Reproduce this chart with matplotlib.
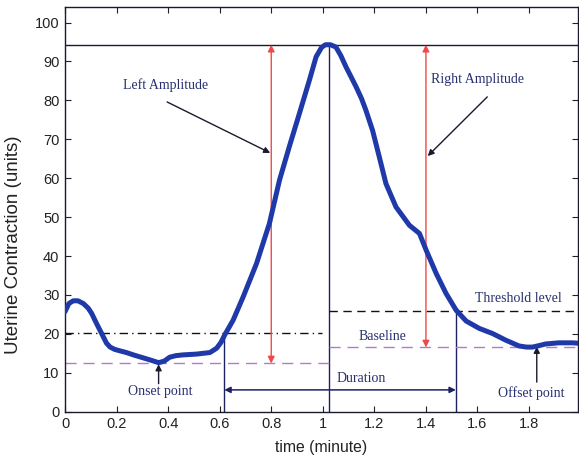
import matplotlib
matplotlib.use("Agg")
import matplotlib.pyplot as plt

# Uterine contraction trace (time in minutes, amplitude in units)
time_min = [0.000, 0.015, 0.032, 0.050, 0.071, 0.090, 0.103, 0.122, 0.142, 0.161,
            0.175, 0.193, 0.215, 0.238, 0.265, 0.290, 0.330, 0.363, 0.385, 0.406,
            0.430, 0.458, 0.510, 0.562, 0.588, 0.605, 0.620, 0.652, 0.691, 0.743,
            0.793, 0.832, 0.870, 0.909, 0.948, 0.974, 0.995, 1.010, 1.030, 1.051,
            1.070, 1.090, 1.110, 1.129, 1.150, 1.167, 1.193, 1.219, 1.245, 1.284,
            1.336, 1.375, 1.401, 1.440, 1.478, 1.517, 1.556, 1.607, 1.658, 1.709,
            1.761, 1.790, 1.813, 1.840, 1.864, 1.916, 1.967, 1.990]
contraction = [25.7, 27.8, 28.5, 28.5, 27.8, 26.6, 25.3, 22.7, 20.1, 17.6,
               16.6, 16.0, 15.6, 15.2, 14.6, 14.1, 13.3, 12.6, 13.0, 14.0,
               14.4, 14.6, 14.8, 15.2, 16.3, 17.8, 19.8, 23.5, 29.5, 38.1,
               48.4, 59.5, 68.1, 76.6, 85.2, 91.2, 93.6, 94.3, 94.3, 93.7,
               91.5, 88.6, 86.0, 83.5, 80.5, 77.5, 72.3, 65.5, 58.6, 52.6,
               47.9, 45.8, 41.5, 35.5, 30.4, 26.1, 23.3, 21.4, 20.1, 18.4,
               16.9, 16.6, 16.6, 17.0, 17.4, 17.7, 17.7, 17.6]

# Derived contraction features
peak_value = 94.3
peak_time = 1.025
start_time = 0.618
end_time = 1.516
threshold_left = 20.1
threshold_right = 25.9
baseline_left = 12.4
baseline_right = 16.5
onset_time = 0.363
offset_time = 1.83
left_amp_time = 0.80
right_amp_time = 1.40

x_ticks = [0, 0.2, 0.4, 0.6, 0.8, 1, 1.2, 1.4, 1.6, 1.8]
x_tick_labels = ["0", "0.2", "0.4", "0.6", "0.8", "1", "1.2", "1.4", "1.6", "1.8"]
y_ticks = [0, 10, 20, 30, 40, 50, 60, 70, 80, 90, 100]

navy = "#1c2260"
txt_col = "#27306e"
serif = ["Liberation Serif", "DejaVu Serif"]
sans = ["Liberation Sans", "DejaVu Sans"]

fig = plt.figure(figsize=(5.79, 4.55), dpi=100)
ax = fig.add_axes([0.1123, 0.0952, 0.886, 0.8894])
x_end = 1.99
ax.set_xlim(0, x_end)
ax.set_ylim(0, 104)

# reference lines
ax.plot([0, x_end], [peak_value, peak_value], color="#1a1a2e", lw=1.0)
ax.plot([peak_time, peak_time], [0, peak_value], color=navy, lw=1.0)
ax.plot([start_time, start_time], [0, threshold_left], color=navy, lw=1.0)
ax.plot([end_time, end_time], [0, threshold_right], color=navy, lw=1.0)
ax.plot([0, peak_time - 0.03], [threshold_left, threshold_left], color="#111111",
        lw=1.0, ls=(0, (6, 3, 1, 3)))
ax.plot([peak_time, x_end], [threshold_right, threshold_right], color="#111111",
        lw=1.0, ls=(0, (6, 4)))
ax.plot([0, peak_time], [baseline_left, baseline_left], color="#b877c8",
        lw=1.0, ls=(0, (8, 5)))
ax.plot([peak_time, x_end], [baseline_right, baseline_right], color="#b877c8",
        lw=1.0, ls=(0, (8, 5)))

# contraction signal
ax.plot(time_min, contraction, color="#1f3aa8", lw=3.6, solid_capstyle="round",
        solid_joinstyle="round", zorder=5)

# amplitude arrows
red_arrow = dict(arrowstyle="<|-|>", color="#f04848", lw=1.0,
                 mutation_scale=10, shrinkA=0, shrinkB=0)
ax.annotate("", xy=(left_amp_time, peak_value), xytext=(left_amp_time, baseline_left),
            arrowprops=red_arrow)
ax.annotate("", xy=(right_amp_time, peak_value), xytext=(right_amp_time, baseline_right),
            arrowprops=red_arrow)

# duration arrow
ax.annotate("", xy=(end_time, 5.6), xytext=(start_time, 5.6),
            arrowprops=dict(arrowstyle="<|-|>", color=navy, lw=1.1,
                            mutation_scale=9, shrinkA=0, shrinkB=0))

black_arrow = dict(arrowstyle="-|>", color="#1a1a2e", lw=1.0, mutation_scale=9,
                   shrinkA=0, shrinkB=0)
ax.annotate("", xy=(0.796, 66.5), xytext=(0.396, 79.6), arrowprops=black_arrow)
ax.annotate("", xy=(1.407, 65.7), xytext=(1.638, 80.9), arrowprops=black_arrow)
ax.annotate("", xy=(onset_time, baseline_left - 0.2), xytext=(onset_time, 7.2),
            arrowprops=black_arrow)
ax.annotate("", xy=(offset_time, baseline_right + 0.2), xytext=(offset_time, 7.6),
            arrowprops=black_arrow)

tk = dict(family=serif, fontsize=10, color=txt_col, ha="center", va="center")
ax.text(0.39, 84.0, "Left Amplitude", **tk)
ax.text(1.60, 85.4, "Right Amplitude", **tk)
ax.text(0.37, 5.1, "Onset point", **tk)
ax.text(1.81, 4.9, "Offset point", **tk)
ax.text(1.15, 8.6, "Duration", **tk)
ax.text(1.23, 19.3, "Baseline", **tk)
ax.text(1.76, 29.0, "Threshold level", **tk)

ax.set_xticks(x_ticks)
ax.set_xticklabels(x_tick_labels)
ax.set_yticks(y_ticks)
ax.tick_params(direction="in", top=True, right=True, length=4, width=0.8,
               labelsize=10.5, colors="#222222", pad=4)
for lab in ax.get_xticklabels() + ax.get_yticklabels():
    lab.set_family(sans)
for s in ax.spines.values():
    s.set_color("#1a1a2e")
    s.set_linewidth(1.0)

ax.set_xlabel("time (minute)", fontsize=11.3, family=sans, color="#222222", labelpad=6)
ax.set_ylabel("Uterine Contraction (units)", fontsize=13.5, family=sans,
              color="#222222")
ax.yaxis.set_label_coords(-0.084, 0.412)

fig.savefig("out.png", dpi=100)
